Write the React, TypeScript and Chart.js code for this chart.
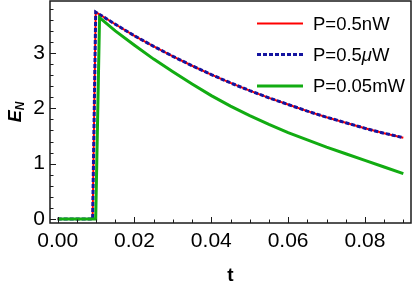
import React, { useEffect, useRef } from 'react';
import { Chart, registerables } from 'chart.js';

Chart.register(...registerables);

// ---- data ----
const RED_T = [0, 0.0091, 0.0099, 0.015, 0.02, 0.025, 0.03, 0.035, 0.04, 0.045, 0.05, 0.055, 0.06, 0.065, 0.07, 0.075, 0.08, 0.085, 0.09];
const RED_E = [0, 0, 3.74, 3.52, 3.31, 3.12, 2.94, 2.77, 2.61, 2.46, 2.32, 2.19, 2.07, 1.95, 1.84, 1.74, 1.64, 1.55, 1.47];
const BLUE_T = [0, 0.0091, 0.0099, 0.015, 0.02, 0.025, 0.03, 0.035, 0.04, 0.045, 0.05, 0.055, 0.06, 0.065, 0.07, 0.075, 0.08, 0.085, 0.09];
const BLUE_E = [0, 0, 3.74, 3.52, 3.31, 3.12, 2.94, 2.77, 2.61, 2.46, 2.32, 2.19, 2.07, 1.95, 1.84, 1.74, 1.64, 1.55, 1.47];
const GREEN_T = [0, 0.0099, 0.0109, 0.015, 0.02, 0.025, 0.03, 0.035, 0.04, 0.045, 0.05, 0.055, 0.06, 0.065, 0.07, 0.075, 0.08, 0.085, 0.09];
const GREEN_E = [0, 0, 3.64, 3.40, 3.14, 2.89, 2.66, 2.44, 2.23, 2.04, 1.87, 1.71, 1.56, 1.43, 1.30, 1.18, 1.06, 0.94, 0.82];

const SERIES_LABELS = ['P=0.5nW', 'P=0.5μW', 'P=0.05mW'];
const X_TICKS = [0, 0.02, 0.04, 0.06, 0.08];
const Y_TICKS = [0, 1, 2, 3];
const X_MINOR_STEP = 0.005;
const X_MINOR_MAX = 0.09;
const Y_MINOR_STEP = 0.2;
const Y_MINOR_MAX = 3.8;
const X_TITLE = 't';
const Y_TITLE_MAIN = 'E';
const Y_TITLE_SUB = 'N';

const FONT = "'Liberation Sans', Arial, Helvetica, sans-serif";
const RED = '#ff0000';
const BLUE = '#1414a0';
const GREEN = '#12ac12';

const toPts = (t: number[], e: number[]) => t.map((v, i) => ({ x: v, y: e[i] }));

const framePlugin = {
  id: 'frameAndExtras',
  afterDatasetsDraw(chart: any) {
    const { ctx, chartArea: a, scales } = chart;
    const xs = scales.x;
    const ys = scales.y;
    ctx.save();
    // frame
    ctx.strokeStyle = '#1a1a1a';
    ctx.lineWidth = 1.5;
    ctx.strokeRect(a.left, a.top, a.right - a.left, a.bottom - a.top);
    // x ticks (inward)
    ctx.lineWidth = 1;
    const nX = Math.round(X_MINOR_MAX / X_MINOR_STEP);
    for (let i = 0; i <= nX; i++) {
      const v = i * X_MINOR_STEP;
      const major = X_TICKS.some((t) => Math.abs(t - v) < 1e-9);
      const px = Math.round(xs.getPixelForValue(v)) + 0.5;
      const len = major ? 6 : 3.5;
      ctx.beginPath();
      ctx.moveTo(px, a.bottom);
      ctx.lineTo(px, a.bottom - len);
      ctx.stroke();
    }
    const nY = Math.round(Y_MINOR_MAX / Y_MINOR_STEP);
    for (let i = 0; i <= nY; i++) {
      const v = i * Y_MINOR_STEP;
      const major = Y_TICKS.some((t) => Math.abs(t - v) < 1e-9);
      const py = Math.round(ys.getPixelForValue(v)) + 0.5;
      const len = major ? 6 : 3.5;
      ctx.beginPath();
      ctx.moveTo(a.left, py);
      ctx.lineTo(a.left + len, py);
      ctx.stroke();
    }

    // legend
    const rows = [23.5, 54.5, 86];
    const colors = [RED, BLUE, GREEN];
    const widths = [2, 3, 3];
    const dashes = [[], [4, 2], []];
    const lx0 = 257;
    const lx1 = 303;
    const tx = 313;
    ctx.textBaseline = 'middle';
    ctx.textAlign = 'left';
    for (let i = 0; i < 3; i++) {
      ctx.strokeStyle = colors[i];
      ctx.lineWidth = widths[i];
      ctx.setLineDash(dashes[i]);
      ctx.beginPath();
      ctx.moveTo(lx0, rows[i]);
      ctx.lineTo(lx1, rows[i]);
      ctx.stroke();
      ctx.setLineDash([]);
      ctx.fillStyle = '#000';
      const label = SERIES_LABELS[i];
      const mu = label.indexOf('μ');
      if (mu >= 0) {
        const a1 = label.slice(0, mu);
        const a2 = label.slice(mu + 1);
        ctx.font = `18.5px ${FONT}`;
        ctx.fillText(a1, tx, rows[i] + 1);
        let w = ctx.measureText(a1).width;
        ctx.font = `italic 18.5px ${FONT}`;
        ctx.fillText('μ', tx + w, rows[i] + 1);
        w += ctx.measureText('μ').width;
        ctx.font = `18.5px ${FONT}`;
        ctx.fillText(a2, tx + w, rows[i] + 1);
      } else {
        ctx.font = `18.5px ${FONT}`;
        ctx.fillText(label, tx, rows[i] + 1);
      }
    }

    // axis titles
    ctx.fillStyle = '#000';
    ctx.textAlign = 'center';
    ctx.font = `bold 19px ${FONT}`;
    ctx.fillText(X_TITLE, (a.left + a.right) / 2, 276);

    ctx.translate(15, (a.top + a.bottom) / 2);
    ctx.rotate(-Math.PI / 2);
    ctx.textAlign = 'left';
    ctx.textBaseline = 'alphabetic';
    ctx.font = `italic bold 18px ${FONT}`;
    const wE = ctx.measureText(Y_TITLE_MAIN).width;
    ctx.font = `italic bold 12px ${FONT}`;
    const wN = ctx.measureText(Y_TITLE_SUB).width;
    const start = -(wE + wN) / 2;
    ctx.font = `italic bold 18px ${FONT}`;
    ctx.fillText(Y_TITLE_MAIN, start, 6);
    ctx.font = `italic bold 12px ${FONT}`;
    ctx.fillText(Y_TITLE_SUB, start + wE, 9);
    ctx.restore();
  },
};

export default function App() {
  const ref = useRef<HTMLCanvasElement | null>(null);
  useEffect(() => {
    document.body.style.margin = '0';
    const canvas = ref.current;
    if (!canvas) return;
    const chart = new Chart(canvas, {
      type: 'line',
      data: {
        datasets: [
          {
            label: SERIES_LABELS[0],
            data: toPts(RED_T, RED_E),
            borderColor: RED,
            borderWidth: 2,
            pointRadius: 0,
            tension: 0,
            fill: false,
            order: 3,
          },
          {
            label: SERIES_LABELS[1],
            data: toPts(BLUE_T, BLUE_E),
            borderColor: BLUE,
            borderWidth: 3,
            borderDash: [4, 2],
            pointRadius: 0,
            tension: 0,
            fill: false,
            order: 2,
          },
          {
            label: SERIES_LABELS[2],
            data: toPts(GREEN_T, GREEN_E),
            borderColor: GREEN,
            borderWidth: 3,
            pointRadius: 0,
            tension: 0,
            fill: false,
            order: 1,
          },
        ],
      },
      options: {
        responsive: false,
        animation: false,
        devicePixelRatio: 1,
        layout: { padding: { top: 1, right: 2, left: 0, bottom: 0 } },
        plugins: { legend: { display: false }, tooltip: { enabled: false } },
        scales: {
          x: {
            type: 'linear',
            min: -0.002,
            max: 0.092,
            grid: { display: false, drawTicks: false },
            border: { display: false },
            afterBuildTicks: (s: any) => {
              s.ticks = X_TICKS.map((v) => ({ value: v }));
            },
            afterFit: (s: any) => {
              s.height = 65;
              s.paddingLeft = 0;
              s.paddingRight = 0;
            },
            ticks: {
              padding: 6,
              maxRotation: 0,
              autoSkip: false,
              color: '#000',
              font: { size: 21, family: FONT },
              callback: (v: any) => Number(v).toFixed(2),
            },
          },
          y: {
            type: 'linear',
            min: -0.072,
            max: 3.94,
            grid: { display: false, drawTicks: false },
            border: { display: false },
            afterBuildTicks: (s: any) => {
              s.ticks = Y_TICKS.map((v) => ({ value: v }));
            },
            afterFit: (s: any) => {
              s.width = 50;
              s.paddingTop = 0;
              s.paddingBottom = 0;
            },
            ticks: {
              padding: 5,
              autoSkip: false,
              color: '#000',
              font: { size: 21, family: FONT },
              callback: (v: any) => String(v),
            },
          },
        },
      },
      plugins: [framePlugin],
    } as any);
    return () => chart.destroy();
  }, []);
  return (
    <canvas ref={ref} width={413} height={288} style={{ display: 'block', width: 413, height: 288 }} />
  );
}
